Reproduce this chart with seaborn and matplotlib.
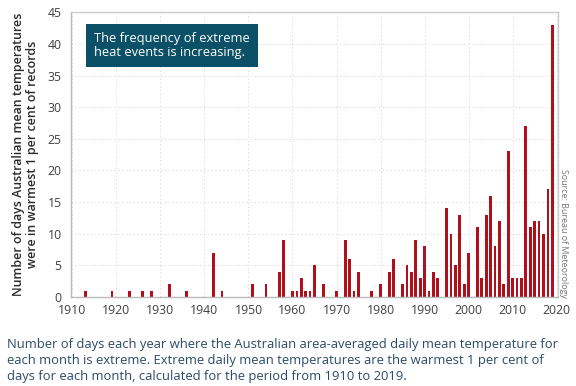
import matplotlib
matplotlib.use("Agg")
import matplotlib.pyplot as plt
import seaborn as sns
import pandas as pd

years = [1913, 1919, 1923, 1926, 1928, 1932, 1936, 1942, 1944, 1951, 1954,
         1957, 1958, 1960, 1961, 1962, 1963, 1964, 1965, 1967, 1970, 1972,
         1973, 1974, 1975, 1978, 1980, 1982, 1983, 1985, 1986, 1987, 1988,
         1989, 1990, 1991, 1992, 1993, 1995, 1996, 1997, 1998, 1999, 2000,
         2002, 2003, 2004, 2005, 2006, 2007, 2008, 2009, 2010, 2011, 2012,
         2013, 2014, 2015, 2016, 2017, 2018, 2019]
days = [1, 1, 1, 1, 1, 2, 1, 7, 1, 2, 2,
        4, 9, 1, 1, 3, 1, 1, 5, 2, 1, 9,
        6, 1, 4, 1, 2, 4, 6, 2, 5, 4, 9,
        3, 8, 1, 4, 3, 14, 10, 5, 13, 2, 7,
        11, 3, 13, 16, 8, 12, 2, 23, 3, 3, 3,
        27, 11, 12, 12, 10, 17, 43]
x_ticks = [1910, 1920, 1930, 1940, 1950, 1960, 1970, 1980, 1990, 2000, 2010, 2020]
y_ticks = [0, 5, 10, 15, 20, 25, 30, 35, 40, 45]

sns.set_theme(style="white")
plt.rcParams['font.family'] = ['Open Sans', 'DejaVu Sans']

df = pd.DataFrame({"year": years, "days": days})

fig = plt.figure(figsize=(5.76, 3.86), dpi=100)
ax = fig.add_axes([0.124, 0.231, 0.844, 0.737])

sns.barplot(data=df, x="year", y="days", native_scale=True, width=0.62,
            color="#b0101c", saturation=1, edgecolor="none", ax=ax)

ax.set_xlim(1909.8, 2020.2)
ax.set_ylim(0, 45)
ax.set_xticks(x_ticks)
ax.set_yticks(y_ticks)
ax.set_xticklabels([str(t) for t in x_ticks])
ax.set_yticklabels([str(t) for t in y_ticks])
ax.tick_params(axis="both", labelsize=8.8, colors="#404040", length=3,
               width=0.8, color="#bbbbbb")
ax.tick_params(axis="x", direction="in", length=4, pad=5)
ax.tick_params(axis="y", direction="out", length=3, pad=4)
ax.grid(True, axis="both", linestyle=(0, (1.5, 2.5)), color="#dddddd", linewidth=0.7)
ax.set_axisbelow(True)
for side, sp in ax.spines.items():
    sp.set_visible(True)
    sp.set_color("#cccccc")
    sp.set_linewidth(1.0)
ax.spines["bottom"].set_color("#bbbbbb")
ax.spines["left"].set_color("#bbbbbb")

ax.set_xlabel("")
ax.set_ylabel("Number of days Australian mean temperatures\nwere in warmest 1 per cent of records",
              fontsize=8.9, color="#2b2b2b", fontweight="semibold", labelpad=6,
              linespacing=1.1)

ax.text(1914.9, 41.9, "The frequency of extreme\nheat events is increasing.",
        fontsize=9.3, color="white", va="top", ha="left", linespacing=1.15,
        bbox=dict(boxstyle="square,pad=0.62", facecolor="#0b5066", edgecolor="none"))

fig.text(0.978, 0.228, "Source: Bureau of Meteorology", rotation=270,
         fontsize=6.4, color="#777777", ha="center", va="bottom")

fig.text(0.012, 0.066,
         "Number of days each year where the Australian area-averaged daily mean temperature for\n"
         "each month is extreme. Extreme daily mean temperatures are the warmest 1 per cent of\n"
         "days for each month, calculated for the period from 1910 to 2019.",
         fontsize=9.35, color="#2c4a6b", ha="left", va="center", linespacing=1.33)

fig.savefig("out.png", dpi=100)
